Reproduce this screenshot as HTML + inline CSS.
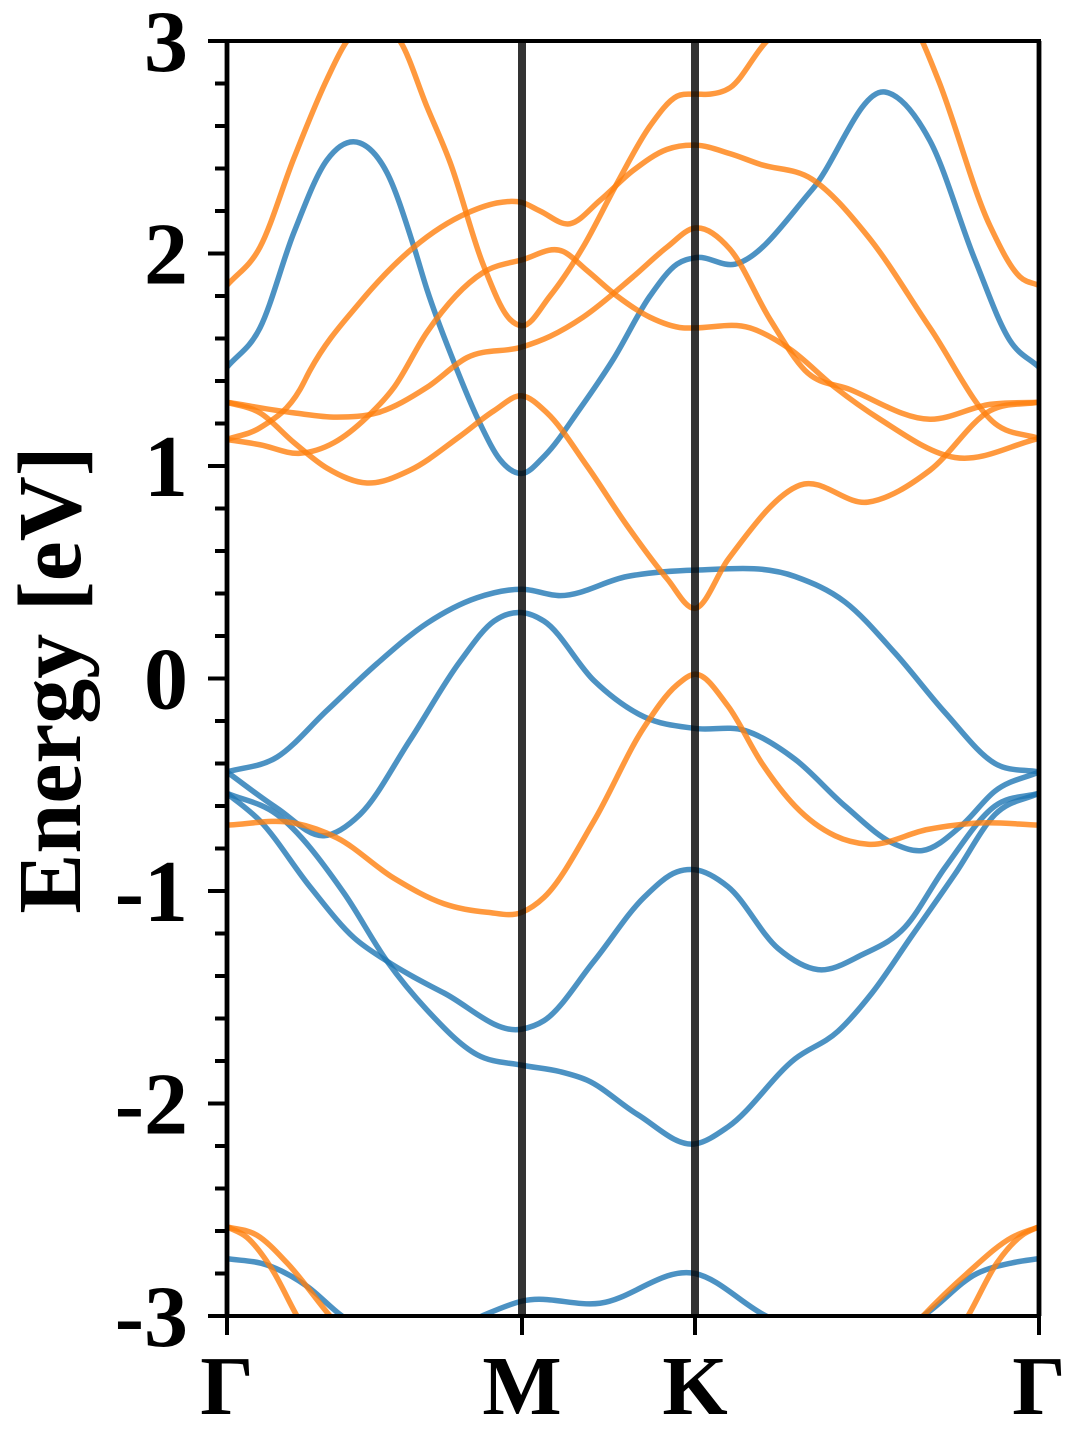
<!DOCTYPE html>
<html><head><meta charset="utf-8"><style>
html,body{margin:0;padding:0;background:#fff;width:1080px;height:1440px;overflow:hidden;}
svg{display:block;overflow:hidden;}
text{font-family:"Liberation Serif",serif;font-weight:bold;fill:#000;}
</style></head><body>
<svg id="chart" width="1080" height="1440" viewBox="0 0 1080 1440">
  <defs><clipPath id="plotclip"><rect x="227" y="41" width="812" height="1275"/></clipPath></defs>
  <g id="bands" clip-path="url(#plotclip)"></g>
  <g id="axes"></g>
</svg>
<script>
// k-path distance (arbitrary units): Γ=0, M=295, K=468, Γ=812
const kLabels = ["Γ","M","K","Γ"];
const kNodes = [0,295,468,812];
const yTicks = [-3,-2,-1,0,1,2,3];
const yTickLabels = ["-3","-2","-1","0","1","2","3"];
const yMinorStep = 0.2;

// spin-up (blue) bands: [k, E(eV)]
const blue1 = [[0,1.465],[33,1.65],[67,2.10],[100,2.44],[133,2.52],[160,2.38],[187,2.03],[200,1.83],[226,1.50],[253,1.2],[273,1.03],[295,0.965],[318,1.05],[353,1.27],[386,1.50],[423,1.80],[450,1.95],[468,1.98],[508,1.95],[585,2.30],[658,2.76],[703,2.53],[748,1.97],[783,1.59],[812,1.465]];
const blue2 = [[0,-0.44],[50,-0.37],[100,-0.15],[150,0.07],[200,0.26],[250,0.38],[295,0.42],[333,0.39],[400,0.48],[468,0.51],[568,0.48],[618,0.36],[668,0.12],[718,-0.16],[768,-0.40],[812,-0.44]];
const blue3 = [[0,-0.44],[50,-0.61],[97,-0.74],[133,-0.64],[183,-0.29],[233,0.08],[267,0.27],[295,0.31],[317,0.27],[367,-0.01],[417,-0.18],[468,-0.235],[518,-0.245],[568,-0.38],[618,-0.60],[668,-0.78],[695,-0.81],[735,-0.69],[768,-0.53],[812,-0.44]];
const blue4 = [[0,-0.54],[33,-0.67],[83,-0.98],[127,-1.22],[160,-1.33],[217,-1.48],[295,-1.65],[317,-1.61],[367,-1.33],[417,-1.03],[450,-0.91],[468,-0.90],[501,-0.98],[551,-1.27],[591,-1.37],[635,-1.30],[678,-1.17],[718,-0.89],[768,-0.60],[812,-0.54]];
const blue5 = [[0,-0.54],[50,-0.64],[117,-1.01],[160,-1.33],[200,-1.56],[250,-1.77],[295,-1.82],[333,-1.85],[360,-1.89],[410,-2.05],[468,-2.19],[501,-2.11],[568,-1.79],[611,-1.66],[645,-1.48],[685,-1.21],[728,-0.92],[768,-0.64],[812,-0.54]];
const blue6 = [[0,-2.73],[40,-2.76],[80,-2.86],[115,-3.0],[190,-3.15],[255,-3.0],[295,-2.93],[373,-2.94],[468,-2.80],[539,-3.0],[620,-3.15],[696,-3.0],[750,-2.80],[785,-2.75],[812,-2.73]];
// spin-down (orange) bands
const orange1 = [[0,1.85],[33,2.03],[67,2.45],[100,2.82],[120,3.0],[145,3.08],[173,3.0],[200,2.69],[223,2.43],[256,1.95],[283,1.69],[295,1.66],[323,1.80],[356,2.03],[390,2.33],[423,2.60],[450,2.74],[468,2.75],[483,2.75],[503,2.78],[540,3.0],[620,3.12],[690,3.05],[711,2.82],[763,2.13],[793,1.89],[812,1.85]];
const orange2 = [[0,1.125],[33,1.18],[73,1.36],[83,1.45],[133,1.77],[187,2.03],[240,2.19],[273,2.24],[295,2.24],[313,2.20],[343,2.14],[373,2.25],[406,2.39],[440,2.49],[468,2.51],[503,2.47],[533,2.42],[585,2.35],[641,2.08],[703,1.65],[768,1.2],[812,1.13]];
const orange3 = [[0,1.125],[33,1.10],[73,1.06],[107,1.11],[140,1.23],[167,1.37],[200,1.63],[256,1.91],[295,1.97],[336,2.01],[360,1.92],[390,1.80],[423,1.70],[456,1.65],[468,1.65],[523,1.65],[563,1.55],[608,1.37],[653,1.22],[728,1.04],[812,1.13]];
const orange4 = [[0,1.30],[67,1.25],[110,1.23],[150,1.25],[200,1.37],[240,1.51],[295,1.56],[323,1.61],[356,1.70],[406,1.89],[440,2.03],[468,2.12],[503,2.02],[543,1.69],[578,1.45],[623,1.36],[703,1.22],[763,1.29],[812,1.30]];
const orange5 = [[0,1.30],[33,1.25],[67,1.11],[100,0.99],[140,0.92],[183,0.98],[233,1.14],[267,1.26],[295,1.33],[320,1.25],[360,1.0],[400,0.72],[440,0.47],[468,0.33],[501,0.56],[573,0.91],[641,0.83],[703,0.98],[763,1.26],[812,1.30]];
const orange6 = [[0,-0.69],[67,-0.68],[110,-0.75],[167,-0.94],[217,-1.06],[260,-1.10],[295,-1.10],[317,-1.03],[367,-0.67],[417,-0.23],[450,-0.03],[468,0.02],[501,-0.13],[535,-0.40],[568,-0.60],[608,-0.74],[641,-0.78],[701,-0.71],[751,-0.68],[812,-0.69]];
const orange7 = [[0,-2.58],[20,-2.63],[45,-2.78],[70,-3.0],[110,-3.3],[400,-3.3],[700,-3.3],[741,-3.0],[770,-2.75],[795,-2.62],[812,-2.58]];
const orange8 = [[0,-2.58],[30,-2.62],[60,-2.75],[103,-3.0],[150,-3.25],[400,-3.3],[650,-3.25],[696,-3.0],[740,-2.8],[785,-2.63],[812,-2.58]];

const blueBands = [blue1,blue2,blue3,blue4,blue5,blue6];
const orangeBands = [orange1,orange2,orange3,orange4,orange5,orange6,orange7,orange8];

const X0=227, X1=1039, Y0=1316, Y1=41, EMIN=-3, EMAX=3, KMAX=812;
function xScale(k){return X0 + (k/KMAX)*(X1-X0);}
function yScale(e){return Y0 - (e-EMIN)/(EMAX-EMIN)*(Y0-Y1);}
const NS="http://www.w3.org/2000/svg";
function mk(tag, attrs, parent){const el=document.createElementNS(NS,tag);for(const a in attrs)el.setAttribute(a,attrs[a]);parent.appendChild(el);return el;}
function splinePath(pts){
  const p=pts.map(d=>[xScale(d[0]),yScale(d[1])]);
  const n=p.length, m=[];
  for(let i=0;i<n;i++){
    if(i===0){m.push((p[1][1]-p[0][1])/(p[1][0]-p[0][0]));continue;}
    if(i===n-1){m.push((p[i][1]-p[i-1][1])/(p[i][0]-p[i-1][0]));continue;}
    const h0=p[i][0]-p[i-1][0], h1=p[i+1][0]-p[i][0];
    const d0=(p[i][1]-p[i-1][1])/h0, d1=(p[i+1][1]-p[i][1])/h1;
    m.push((d0*h1+d1*h0)/(h0+h1));
  }
  let s="M"+p[0][0].toFixed(2)+","+p[0][1].toFixed(2);
  for(let i=0;i<n-1;i++){
    const h=p[i+1][0]-p[i][0];
    const c1=[p[i][0]+h/3, p[i][1]+m[i]*h/3];
    const c2=[p[i+1][0]-h/3, p[i+1][1]-m[i+1]*h/3];
    s+="C"+c1[0].toFixed(2)+","+c1[1].toFixed(2)+" "+c2[0].toFixed(2)+","+c2[1].toFixed(2)+" "+p[i+1][0].toFixed(2)+","+p[i+1][1].toFixed(2);
  }
  return s;
}
const bandsG=document.getElementById('bands');
const axesG=document.getElementById('axes');
blueBands.forEach((b,i)=>{
  const el=mk('path',{d:splinePath(b),fill:'none',stroke:'#1f77b4','stroke-opacity':'0.8','stroke-width':'5.5','stroke-linejoin':'round'},bandsG);
  
  
});
orangeBands.forEach((b,i)=>{
  const el=mk('path',{d:splinePath(b),fill:'none',stroke:'#ff7f0e','stroke-opacity':'0.8','stroke-width':'5.5','stroke-linejoin':'round'},bandsG);
  
  
});
kNodes.forEach((k,i)=>{
  const el=mk('line',{x1:xScale(k),x2:xScale(k),y1:Y1,y2:Y0,stroke:'#000','stroke-opacity':'0.8','stroke-width':(i===1||i===2)?'8':'5'},axesG);
  
  
});
const frame=mk('rect',{x:X0,y:Y1,width:X1-X0,height:Y0-Y1,fill:'none',stroke:'#000','stroke-width':'4'},axesG);


for(let e=EMIN;e<=EMAX+1e-9;e+=yMinorStep){
  const major=Math.abs(e-Math.round(e))<1e-6;
  const t=mk('line',{x1:major?208:215,x2:X0,y1:yScale(e),y2:yScale(e),stroke:'#000','stroke-width':'4'},axesG);
  
  
}
yTicks.forEach((v,i)=>{
  const t=mk('text',{x:188,y:yScale(v)+30,'text-anchor':'end','font-size':'88'},axesG);
  t.textContent=yTickLabels[i];
  
  
});
kNodes.forEach((k,i)=>{
  const t=mk('line',{x1:xScale(k),x2:xScale(k),y1:Y0,y2:Y0+19,stroke:'#000','stroke-width':'4'},axesG);
  
  
  const l=mk('text',{x:xScale(k),y:1414,'text-anchor':'middle','font-size':'84'},axesG);
  l.textContent=kLabels[i];
  
  
});
const yt=mk('text',{x:0,y:0,'text-anchor':'middle','font-size':'90',transform:'translate(80,680) rotate(-90)'},axesG);
yt.textContent='Energy [eV]';


</script>
</body></html>
